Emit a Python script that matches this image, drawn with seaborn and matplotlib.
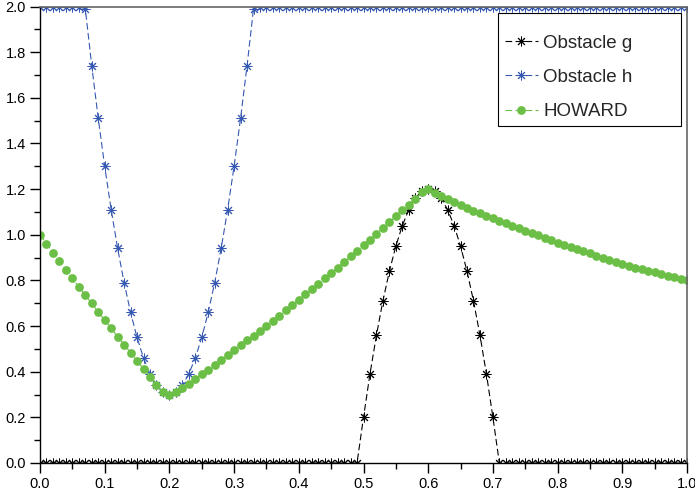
import numpy as np
import pandas as pd
import matplotlib
matplotlib.use("Agg")
import matplotlib.pyplot as plt
import seaborn as sns
from matplotlib.ticker import MultipleLocator, FormatStrFormatter
from matplotlib.patches import Rectangle

x_vals = [round(i * 0.01, 2) for i in range(101)]

obstacle_g = [
    0.0, 0.0, 0.0, 0.0, 0.0, 0.0, 0.0, 0.0, 0.0, 0.0,
    0.0, 0.0, 0.0, 0.0, 0.0, 0.0, 0.0, 0.0, 0.0, 0.0,
    0.0, 0.0, 0.0, 0.0, 0.0, 0.0, 0.0, 0.0, 0.0, 0.0,
    0.0, 0.0, 0.0, 0.0, 0.0, 0.0, 0.0, 0.0, 0.0, 0.0,
    0.0, 0.0, 0.0, 0.0, 0.0, 0.0, 0.0, 0.0, 0.0, 0.0,
    0.20, 0.39, 0.56, 0.71, 0.84, 0.95, 1.04, 1.11, 1.16, 1.19,
    1.20, 1.19, 1.16, 1.11, 1.04, 0.95, 0.84, 0.71, 0.56, 0.39,
    0.20, 0.0, 0.0, 0.0, 0.0, 0.0, 0.0, 0.0, 0.0, 0.0,
    0.0, 0.0, 0.0, 0.0, 0.0, 0.0, 0.0, 0.0, 0.0, 0.0,
    0.0, 0.0, 0.0, 0.0, 0.0, 0.0, 0.0, 0.0, 0.0, 0.0,
    0.0,
]

obstacle_h = [
    2.0, 2.0, 2.0, 2.0, 2.0, 2.0, 2.0, 1.99, 1.74, 1.51,
    1.30, 1.11, 0.94, 0.79, 0.66, 0.55, 0.46, 0.39, 0.34, 0.31,
    0.30, 0.31, 0.34, 0.39, 0.46, 0.55, 0.66, 0.79, 0.94, 1.11,
    1.30, 1.51, 1.74, 1.99, 2.0, 2.0, 2.0, 2.0, 2.0, 2.0,
    2.0, 2.0, 2.0, 2.0, 2.0, 2.0, 2.0, 2.0, 2.0, 2.0,
    2.0, 2.0, 2.0, 2.0, 2.0, 2.0, 2.0, 2.0, 2.0, 2.0,
    2.0, 2.0, 2.0, 2.0, 2.0, 2.0, 2.0, 2.0, 2.0, 2.0,
    2.0, 2.0, 2.0, 2.0, 2.0, 2.0, 2.0, 2.0, 2.0, 2.0,
    2.0, 2.0, 2.0, 2.0, 2.0, 2.0, 2.0, 2.0, 2.0, 2.0,
    2.0, 2.0, 2.0, 2.0, 2.0, 2.0, 2.0, 2.0, 2.0, 2.0,
    2.0,
]

howard = [
    1.000, 0.961, 0.922, 0.884, 0.846, 0.809, 0.772, 0.735, 0.699, 0.662,
    0.626, 0.590, 0.554, 0.519, 0.483, 0.448, 0.412, 0.376, 0.340, 0.310,
    0.300, 0.310, 0.328, 0.347, 0.367, 0.388, 0.408, 0.429, 0.450, 0.472,
    0.495, 0.517, 0.537, 0.558, 0.579, 0.601, 0.623, 0.646, 0.669, 0.692,
    0.715, 0.739, 0.762, 0.785, 0.809, 0.832, 0.856, 0.880, 0.905, 0.929,
    0.954, 0.979, 1.004, 1.030, 1.055, 1.081, 1.107, 1.132, 1.158, 1.186,
    1.200, 1.185, 1.169, 1.155, 1.142, 1.130, 1.118, 1.106, 1.095, 1.084,
    1.073, 1.062, 1.051, 1.040, 1.029, 1.018, 1.008, 0.997, 0.987, 0.976,
    0.966, 0.956, 0.946, 0.937, 0.927, 0.918, 0.909, 0.899, 0.890, 0.881,
    0.872, 0.864, 0.856, 0.849, 0.842, 0.835, 0.828, 0.821, 0.814, 0.807,
    0.800,
]

labels = ["Obstacle g", "Obstacle h", "HOWARD"]

sns.set_theme(style="ticks")
plt.rcParams["font.family"] = ["Liberation Sans", "DejaVu Sans"]

df = pd.DataFrame({"x": x_vals, "g": obstacle_g, "h": obstacle_h, "u": howard})

W, H = 695, 493
AX_L, AX_R, AX_T, AX_B = 40, 687, 6.5, 463
fig = plt.figure(figsize=(W / 100, H / 100), dpi=100)
ax = fig.add_axes([AX_L / W, (H - AX_B) / H, (AX_R - AX_L) / W, (AX_B - AX_T) / H])


def ax_x(px):
    return (px - AX_L) / (AX_R - AX_L)


def ax_y(py):
    return (AX_B - py) / (AX_B - AX_T)


star = (8, 2, 0)
sns.lineplot(data=df, x="x", y="g", ax=ax, color="black", linestyle=(0, (6, 3)),
             linewidth=0.8, marker=star, markersize=7, markeredgewidth=0.7,
             markeredgecolor="black", label=labels[0], sort=False)
sns.lineplot(data=df, x="x", y="h", ax=ax, color="#3558b0", linestyle=(0, (6, 3)),
             linewidth=0.8, marker=star, markersize=7, markeredgewidth=0.7,
             markeredgecolor="#3558b0", label=labels[1], sort=False)
sns.lineplot(data=df, x="x", y="u", ax=ax, color="#6cbf46", linestyle=(0, (6, 3)),
             linewidth=0.8, marker="o", markersize=6.3, markeredgewidth=0,
             markerfacecolor="#6cbf46", label=labels[2], sort=False)

ax.set_xlim(0, 1)
ax.set_ylim(0, 2)
ax.set_xlabel("")
ax.set_ylabel("")
ax.xaxis.set_major_locator(MultipleLocator(0.1))
ax.xaxis.set_minor_locator(MultipleLocator(0.05))
ax.yaxis.set_major_locator(MultipleLocator(0.2))
ax.yaxis.set_minor_locator(MultipleLocator(0.1))
ax.xaxis.set_major_formatter(FormatStrFormatter("%.1f"))
ax.yaxis.set_major_formatter(FormatStrFormatter("%.1f"))
ax.tick_params(which="major", direction="out", length=7, width=1, labelsize=10.5,
               colors="black", pad=3)
ax.tick_params(which="minor", direction="out", length=4, width=1, colors="black")
for side in ["left", "bottom"]:
    ax.spines[side].set_color("black")
    ax.spines[side].set_linewidth(1.0)
for side in ["top", "right"]:
    ax.spines[side].set_visible(True)
    ax.spines[side].set_color("#666666")
    ax.spines[side].set_linewidth(1.2)

# legend frame drawn as a box, entries placed inside it
box_l, box_r, box_t, box_b = 498, 681, 13, 126
frame = Rectangle((ax_x(box_l), ax_y(box_b)), ax_x(box_r) - ax_x(box_l),
                  ax_y(box_t) - ax_y(box_b), transform=ax.transAxes,
                  facecolor="white", edgecolor="black", linewidth=0.8,
                  zorder=4, clip_on=False)
ax.add_patch(frame)

leg = ax.legend(loc="upper left", bbox_to_anchor=(ax_x(505), ax_y(34.5)),
                fontsize=13.5, frameon=False,
                handlelength=1.75, handletextpad=0.3, labelspacing=0.92,
                borderpad=0, borderaxespad=0)
leg.set_zorder(5)

fig.savefig("out.png", dpi=100)
